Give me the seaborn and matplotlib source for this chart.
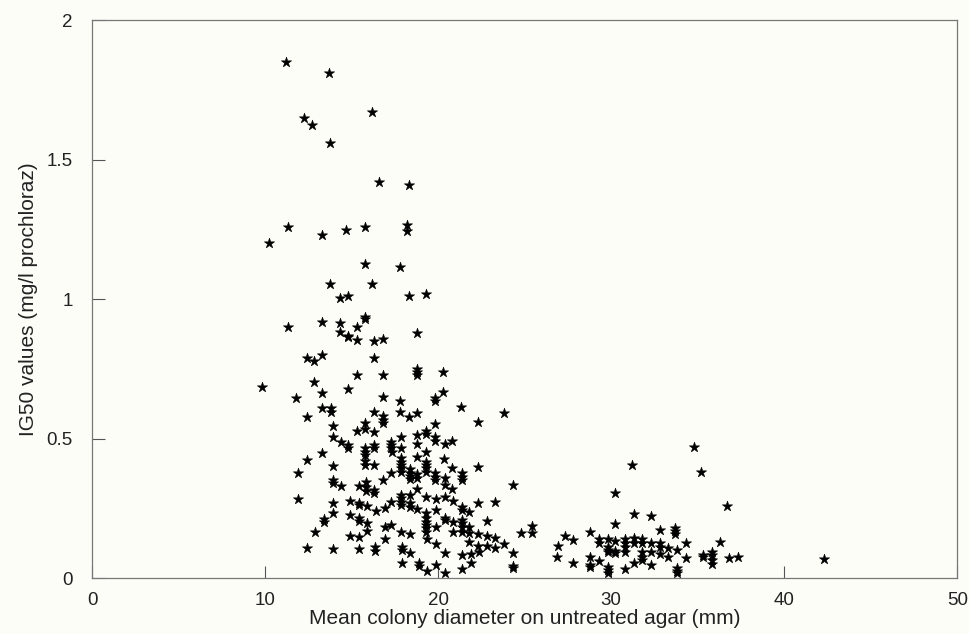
import pandas as pd
import seaborn as sns
import matplotlib.pyplot as plt

# colony diameter (mm) and IG50 (mg/l prochloraz)
diameter = [
    11.2, 13.7, 12.25, 12.7, 13.75, 16.2,
    16.6, 18.3, 11.3, 13.3, 14.7, 15.8, 18.2, 18.2, 10.2, 17.8, 15.8, 16.2, 13.75, 14.3, 14.8, 18.3, 19.3,
    11.3, 13.3, 14.3, 15.3, 15.8, 15.8, 14.3, 14.8, 14.8, 15.3, 16.3, 16.8, 18.8,
    12.4, 12.8, 13.3, 16.3, 15.3, 16.8, 18.8, 18.8, 18.8, 20.3,
    9.8, 12.8, 11.8, 13.3, 14.8, 16.8, 13.3, 13.8, 13.8, 12.4, 16.3, 15.8, 16.8, 16.8, 16.8, 13.9,
    15.3, 15.8, 16.3, 13.9, 14.4, 14.8, 14.8, 15.8, 15.8, 15.8, 16.3, 16.3, 17.3, 17.3, 17.3, 13.3, 12.4,
    11.9, 13.9, 15.8, 15.8, 16.3, 17.3, 13.9, 13.9, 14.4, 15.4, 15.85, 15.85, 15.85, 16.3, 16.3, 16.8,
    11.9, 13.9, 14.9, 15.4, 15.4, 15.9, 16.4, 16.9, 17.3, 13.9, 13.4, 13.4, 14.9, 15.4, 15.4, 15.9, 15.9,
    16.9, 16.9, 17.3, 12.9, 14.9, 15.4, 12.4, 13.9, 15.4, 16.35, 16.35,
    20.3, 17.8, 17.8, 18.3, 18.8, 19.8, 19.8, 21.3, 23.8, 22.3, 19.8, 17.85, 18.8, 19.3, 19.3, 19.8, 19.8,
    20.4, 20.8, 17.35, 17.85, 18.8, 18.8, 19.3, 17.85, 17.85, 17.85, 17.85, 17.85,
    18.4, 18.4, 18.4, 18.4, 19.3, 19.3, 19.3, 19.3, 18.8, 18.8, 19.8, 19.8, 19.8, 20.35, 20.4, 20.8,
    21.4, 21.4, 21.4, 22.3,
    18.8, 19.3, 19.9, 20.4, 20.4, 20.8, 20.85, 24.3,
    17.85, 17.85, 17.85, 17.85, 18.4, 18.4, 18.4, 18.8,
    19.3, 19.3, 19.3, 19.3, 19.3, 19.3, 19.9, 20.4, 20.4, 20.85, 21.4, 21.4, 21.4, 21.4, 21.4, 21.8,
    22.3, 23.3, 22.8,
    17.85, 18.4, 19.9, 20.85, 21.4, 21.8, 21.8, 22.3, 22.8, 23.3, 24.8, 25.4, 25.4,
    19.35, 19.9, 21.8, 22.3, 22.8, 23.3, 23.8, 26.9, 27.3, 27.8, 26.85, 27.8,
    17.9, 17.9, 18.4, 20.4, 21.4, 21.9, 22.35, 24.3, 24.3, 24.3, 17.9, 18.9, 18.9, 19.9, 19.35, 20.4,
    21.4, 21.9,
    34.8, 31.2, 35.2, 30.2, 36.7, 31.3, 32.3, 30.2, 32.8, 33.7, 33.7, 33.7, 28.8, 29.3, 29.3, 29.8,
    29.8, 29.8, 29.8, 30.2, 30.2, 30.2, 30.8, 30.8, 30.8, 30.8, 31.3, 31.3, 31.8, 31.8, 32.3, 32.8,
    32.8, 32.8, 33.3, 33.8, 34.3, 32.3, 31.8, 31.8, 31.8, 31.3, 30.8, 32.3, 33.3, 34.3, 35.3, 35.3,
    35.8, 35.8, 35.8, 35.8, 36.3, 36.8, 37.3, 42.3, 28.8, 28.8, 28.8, 29.3, 29.8, 29.8, 29.8,
    33.8, 33.8, 33.8,
]
ig50 = [
    1.85, 1.81, 1.65, 1.625, 1.56, 1.67,
    1.42, 1.41, 1.26, 1.23, 1.25, 1.26, 1.265, 1.245, 1.2, 1.115, 1.125, 1.055, 1.055, 1.005, 1.01, 1.01, 1.02,
    0.9, 0.92, 0.915, 0.9, 0.935, 0.928, 0.883, 0.87, 0.863, 0.855, 0.85, 0.857, 0.88,
    0.79, 0.78, 0.8, 0.79, 0.73, 0.73, 0.75, 0.74, 0.73, 0.74,
    0.685, 0.703, 0.645, 0.664, 0.68, 0.65, 0.61, 0.61, 0.595, 0.577, 0.595, 0.556, 0.58, 0.567, 0.556, 0.545,
    0.527, 0.535, 0.524, 0.506, 0.488, 0.477, 0.466, 0.466, 0.452, 0.441, 0.477, 0.466, 0.488, 0.477, 0.466, 0.449, 0.425,
    0.377, 0.402, 0.42, 0.405, 0.405, 0.377, 0.352, 0.341, 0.33, 0.33, 0.344, 0.327, 0.312, 0.316, 0.305, 0.352,
    0.283, 0.269, 0.276, 0.269, 0.262, 0.258, 0.24, 0.251, 0.273, 0.233, 0.212, 0.201, 0.226, 0.215, 0.205, 0.197, 0.169,
    0.183, 0.14, 0.19, 0.165, 0.151, 0.147, 0.108, 0.104, 0.104, 0.111, 0.097,
    0.667, 0.635, 0.596, 0.577, 0.592, 0.646, 0.635, 0.614, 0.592, 0.56, 0.553, 0.506, 0.513, 0.527, 0.517, 0.506, 0.492,
    0.48, 0.492, 0.452, 0.466, 0.48, 0.434, 0.452, 0.43, 0.416, 0.405, 0.395, 0.38,
    0.39, 0.377, 0.366, 0.355, 0.416, 0.405, 0.395, 0.38, 0.373, 0.359, 0.377, 0.362, 0.352, 0.427, 0.359, 0.395,
    0.377, 0.362, 0.352, 0.398,
    0.319, 0.291, 0.283, 0.334, 0.291, 0.319, 0.276, 0.334,
    0.298, 0.287, 0.273, 0.262, 0.298, 0.269, 0.255, 0.248,
    0.233, 0.215, 0.2, 0.19, 0.18, 0.165, 0.244, 0.215, 0.208, 0.2, 0.255, 0.244, 0.208, 0.197, 0.183, 0.237,
    0.269, 0.273, 0.204,
    0.165, 0.158, 0.183, 0.165, 0.165, 0.183, 0.161, 0.158, 0.151, 0.144, 0.161, 0.161, 0.187,
    0.14, 0.122, 0.129, 0.115, 0.115, 0.108, 0.122, 0.115, 0.151, 0.136, 0.075, 0.054,
    0.111, 0.1, 0.09, 0.09, 0.083, 0.086, 0.093, 0.09, 0.043, 0.036, 0.054, 0.054, 0.043, 0.047, 0.025, 0.018,
    0.032, 0.054,
    0.47, 0.405, 0.38, 0.305, 0.258, 0.23, 0.222, 0.194, 0.172, 0.179, 0.169, 0.158, 0.165, 0.14, 0.126, 0.14,
    0.111, 0.1, 0.093, 0.133, 0.097, 0.09, 0.14, 0.126, 0.111, 0.093, 0.143, 0.126, 0.14, 0.126, 0.126, 0.126,
    0.111, 0.086, 0.108, 0.1, 0.126, 0.093, 0.093, 0.075, 0.065, 0.054, 0.032, 0.047, 0.075, 0.072, 0.083, 0.075,
    0.093, 0.083, 0.065, 0.05, 0.129, 0.072, 0.075, 0.068, 0.075, 0.047, 0.04, 0.061, 0.04, 0.029, 0.018,
    0.036, 0.025, 0.018,
]

x_ticks = [0, 10, 20, 30, 40, 50]
y_ticks = [0, 0.5, 1, 1.5, 2]
y_tick_labels = ["0", "0.5", "1", "1.5", "2"]

df = pd.DataFrame({"diameter": diameter, "ig50": ig50})

sns.set_style("white")
plt.rcParams['font.family'] = ['Liberation Sans', 'DejaVu Sans']

fig = plt.figure(figsize=(9.69, 6.34), dpi=100, facecolor="#fdfdf8")
ax = fig.add_axes([0.095, 0.088, 0.893, 0.88])
ax.set_facecolor("#fdfdf8")

sns.scatterplot(data=df, x="diameter", y="ig50", marker="*", color="black",
                s=60, linewidth=0.4, edgecolor="black", ax=ax)

ax.set_xlim(0, 50)
ax.set_ylim(0, 2)
ax.set_xticks(x_ticks)
ax.set_yticks(y_ticks)
ax.set_yticklabels(y_tick_labels)
ax.tick_params(bottom=True, left=True, direction="in", length=9, width=0.8,
               color="#555555", labelsize=13.5, labelcolor="#222222")
ax.tick_params(axis="y", pad=14)
ax.tick_params(axis="x", pad=10)
for side in ax.spines.values():
    side.set_color("#777777")
    side.set_linewidth(0.9)

ax.set_xlabel("Mean colony diameter on untreated agar (mm)", fontsize=15,
              color="#222222", labelpad=0)
ax.set_ylabel("IG50 values (mg/l prochloraz)", fontsize=15, color="#222222",
              labelpad=6)

fig.savefig("out.png", dpi=100, facecolor=fig.get_facecolor())
